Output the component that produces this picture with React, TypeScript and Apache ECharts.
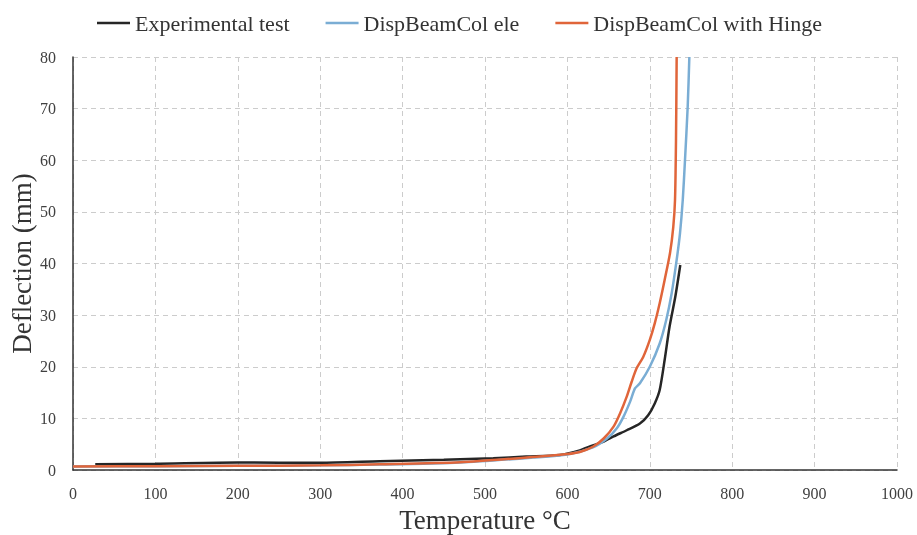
import React, { useEffect, useRef } from "react";
import * as echarts from "echarts";

const seriesNames = ["Experimental test", "DispBeamCol ele", "DispBeamCol with Hinge"];
const seriesColors = ["#262626", "#7AADD4", "#E0653A"];

const experimental: [number, number][] = [
  [27, 1.1], [100, 1.2], [200, 1.45], [300, 1.4], [372, 1.7], [450, 2.0], [510, 2.3], [550, 2.6],
  [591, 2.9], [615, 3.8], [630, 4.7], [644, 5.5], [656, 6.5], [672, 7.7], [688, 9.0],
  [698, 10.6], [706, 12.9], [712, 15.5], [718, 21.3], [724, 27.8], [731, 33.6], [737, 39.7],
];

const dispBeamCol: [number, number][] = [
  [0, 0.7], [100, 0.75], [200, 0.8], [300, 0.9], [372, 1.05], [470, 1.45], [558, 2.4],
  [600, 3.0], [631, 4.4], [648, 6.1], [660, 8.1], [668, 10.3], [676, 13.2], [682, 15.8],
  [688, 16.8], [700, 20.0], [712, 24.5], [720, 29.1], [726.5, 34.2], [732.6, 40.7],
  [736.6, 45.8], [740, 52.3], [742.7, 60], [746, 70.4], [748, 80],
];

const dispBeamColHinge: [number, number][] = [
  [0, 0.7], [100, 0.75], [200, 0.8], [300, 0.9], [372, 1.1], [470, 1.5], [558, 2.5],
  [600, 3.1], [615, 3.5], [631, 4.5], [644, 6.1], [656, 8.4], [664, 11.0], [672, 14.2],
  [678, 17.1], [684, 19.7], [692, 21.9], [700, 25.2], [706, 28.4], [712, 32.3],
  [718, 36.8], [724.5, 42], [728.5, 47.1], [730.6, 52.3], [731.8, 64], [732.6, 80],
];

const seriesData = [experimental, dispBeamCol, dispBeamColHinge];

const xTicks = { min: 0, max: 1000, interval: 100 };
const yTicks = { min: 0, max: 80, interval: 10 };

const FONT = "'Liberation Serif', 'Times New Roman', serif";

export default function App() {
  const ref = useRef<HTMLDivElement>(null);
  useEffect(() => {
    if (!ref.current) return;
    const chart = echarts.init(ref.current, undefined, { renderer: "svg" });
    chart.setOption({
      animation: false,
      textStyle: { fontFamily: FONT },
      legend: {
        top: 12,
        left: 97,
        padding: 0,
        icon: "rect",
        itemWidth: 33,
        itemHeight: 2.5,
        itemGap: 36,
        textStyle: { fontFamily: FONT, fontSize: 22, color: "#333333" },
        data: seriesNames,
      },
      grid: {
        left: 73, right: 20, top: 57, bottom: 65,
        containLabel: false, outerBoundsMode: "none",
      },
      xAxis: {
        type: "value",
        min: xTicks.min,
        max: xTicks.max,
        interval: xTicks.interval,
        name: "Temperature °C",
        nameLocation: "middle",
        nameGap: 36,
        nameMoveOverlap: false,
        nameTextStyle: { fontFamily: FONT, fontSize: 27, color: "#333333" },
        axisLine: { show: true, lineStyle: { color: "#333333", width: 1.5 } },
        axisTick: { show: false },
        axisLabel: {
          fontFamily: FONT, fontSize: 16, color: "#404040", margin: 15,
          formatter: (v: number) => String(v),
        },
        splitLine: { show: true, lineStyle: { color: "#cccccc", type: [5, 4], width: 1 } },
      },
      yAxis: {
        type: "value",
        min: yTicks.min,
        max: yTicks.max,
        interval: yTicks.interval,
        name: "Deflection (mm)",
        nameLocation: "middle",
        nameGap: 38,
        nameMoveOverlap: false,
        nameTextStyle: { fontFamily: FONT, fontSize: 27, color: "#333333" },
        axisLine: { show: true, lineStyle: { color: "#333333", width: 1.5 } },
        axisTick: { show: false },
        axisLabel: { fontFamily: FONT, fontSize: 16, color: "#404040", margin: 17 },
        splitLine: { show: true, lineStyle: { color: "#cccccc", type: [5, 4], width: 1 } },
      },
      series: seriesNames.map((name, i) => ({
        name,
        type: "line",
        data: seriesData[i],
        showSymbol: false,
        symbol: "none",
        smooth: 0.25,
        clip: true,
        z: i === 0 ? 2 : i === 1 ? 3 : 4,
        lineStyle: { color: seriesColors[i], width: 2.5 },
        itemStyle: { color: seriesColors[i] },
      })),
    });
    return () => chart.dispose();
  }, []);
  return (
    <div
      ref={ref}
      style={{ position: "fixed", left: 0, top: 0, width: 917, height: 535 }}
    />
  );
}
